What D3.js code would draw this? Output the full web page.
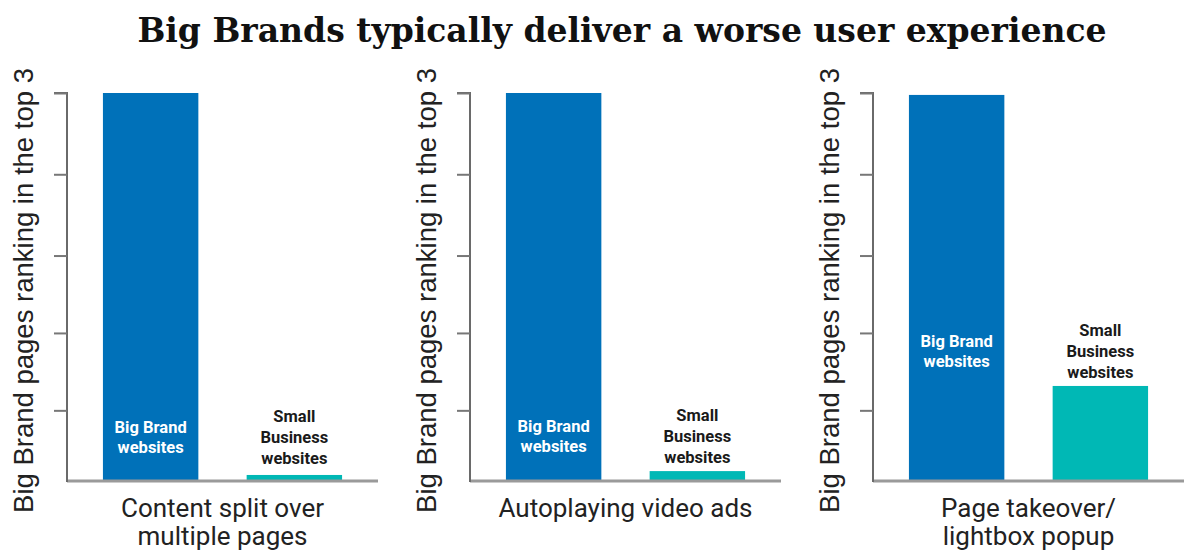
<!DOCTYPE html>
<html>
<head>
<meta charset="utf-8">
<script src="https://cdn.jsdelivr.net/npm/d3@7"></script>
<style>
  html, body { margin: 0; padding: 0; background: #fff; }
  svg { display: block; }
</style>
</head>
<body>
<svg id="chart" width="1185" height="552"></svg>
<script>
// ---- data ----
const title = "Big Brands typically deliver a worse user experience";
const yAxisTitle = "Big Brand pages ranking in the top 3";
const categories = ["Content split over|multiple pages", "Autoplaying video ads", "Page takeover/|lightbox popup"];
const seriesNames = ["Big Brand|websites", "Small|Business|websites"];
const bigBrandValues = [100, 100, 99.5];
const smallBusinessValues = [1.3, 2.3, 24.3];
const yTickValues = [0, 18, 38, 58, 79, 100];

// ---- layout ----
const W = 1185, H = 552;
const svg = d3.select("#chart");
const colors = ["#0071b9", "#00b8b5"];
const panelW = 311;

const panelX = d3.scaleBand().domain(categories).range([67, 67 + 3 * 403]).padding(0);
const y = d3.scaleLinear().domain([0, 100]).range([480, 93]);
const xInner = d3.scaleBand().domain(seriesNames).range([0, panelW]).paddingInner(0.336).paddingOuter(0.25);

svg.append("text")
  .attr("x", 622).attr("y", 42)
  .attr("text-anchor", "middle")
  .attr("font-family", "'DejaVu Serif', serif")
  .attr("font-weight", "bold")
  .attr("font-size", 33)
  .attr("fill", "#111")
  .text(title);

categories.forEach((cat, i) => {
  const g = svg.append("g").attr("transform", `translate(${panelX(cat)},0)`);
  const vals = [bigBrandValues[i], smallBusinessValues[i]];

  // bars
  g.selectAll("rect.bar").data(seriesNames).join("rect")
    .attr("class", "bar")
    .attr("x", d => xInner(d))
    .attr("width", xInner.bandwidth())
    .attr("y", (d, j) => y(vals[j]))
    .attr("height", (d, j) => y(0) - y(vals[j]))
    .attr("fill", (d, j) => colors[j]);

  // baseline
  g.append("line")
    .attr("x1", 0).attr("x2", panelW)
    .attr("y1", y(0) + 1).attr("y2", y(0) + 1)
    .attr("stroke", "#9a9a9a").attr("stroke-width", 3);

  // y axis
  const axis = d3.axisLeft(y).tickValues(yTickValues).tickSize(13).tickFormat("");
  const ag = g.append("g").call(axis);
  ag.select(".domain").attr("stroke", "#6a6a6a").attr("stroke-width", 2).attr("d", `M-13,${y(100)}H0V${y(0) + 2}`);
  ag.selectAll(".tick line").attr("stroke", "#777").attr("stroke-width", 2);
  ag.selectAll(".tick").filter(d => d === 0).remove();

  // y title
  g.append("text")
    .attr("transform", `translate(-34,${(y(0) + y(100)) / 2 + 4}) rotate(-90)`)
    .attr("text-anchor", "middle")
    .attr("font-family", "'Liberation Sans', Arial, sans-serif")
    .attr("font-size", 27.5)
    .attr("fill", "#222")
    .text(yAxisTitle);

  // category label
  const lines = cat.split("|");
  lines.forEach((ln, k) => {
    g.append("text")
      .attr("x", panelW / 2)
      .attr("y", 517 + k * 28)
      .attr("text-anchor", "middle")
      .attr("font-family", "Roboto, sans-serif")
      .attr("font-size", 26)
      .attr("fill", "#222")
      .text(ln);
  });

  // bar labels
  const smallTop = y(vals[1]);
  const smallBase = Math.min(smallTop, 472) - 8;
  const sLines = seriesNames[1].split("|");
  sLines.forEach((ln, k) => {
    g.append("text")
      .attr("x", xInner(seriesNames[1]) + xInner.bandwidth() / 2)
      .attr("y", smallBase - (sLines.length - 1 - k) * 21)
      .attr("text-anchor", "middle")
      .attr("font-family", "Roboto, sans-serif")
      .attr("font-weight", "bold")
      .attr("font-size", 16.5)
      .attr("fill", "#1a1a1a")
      .text(ln);
  });
  const sCenter = smallBase - 21 - 6;
  const bLines = seriesNames[0].split("|");
  bLines.forEach((ln, k) => {
    g.append("text")
      .attr("x", xInner(seriesNames[0]) + xInner.bandwidth() / 2)
      .attr("y", sCenter - 10 + 6 + k * 20)
      .attr("text-anchor", "middle")
      .attr("font-family", "Roboto, sans-serif")
      .attr("font-weight", "bold")
      .attr("font-size", 16.5)
      .attr("fill", "#fff")
      .text(ln);
  });
});
</script>
</body>
</html>
